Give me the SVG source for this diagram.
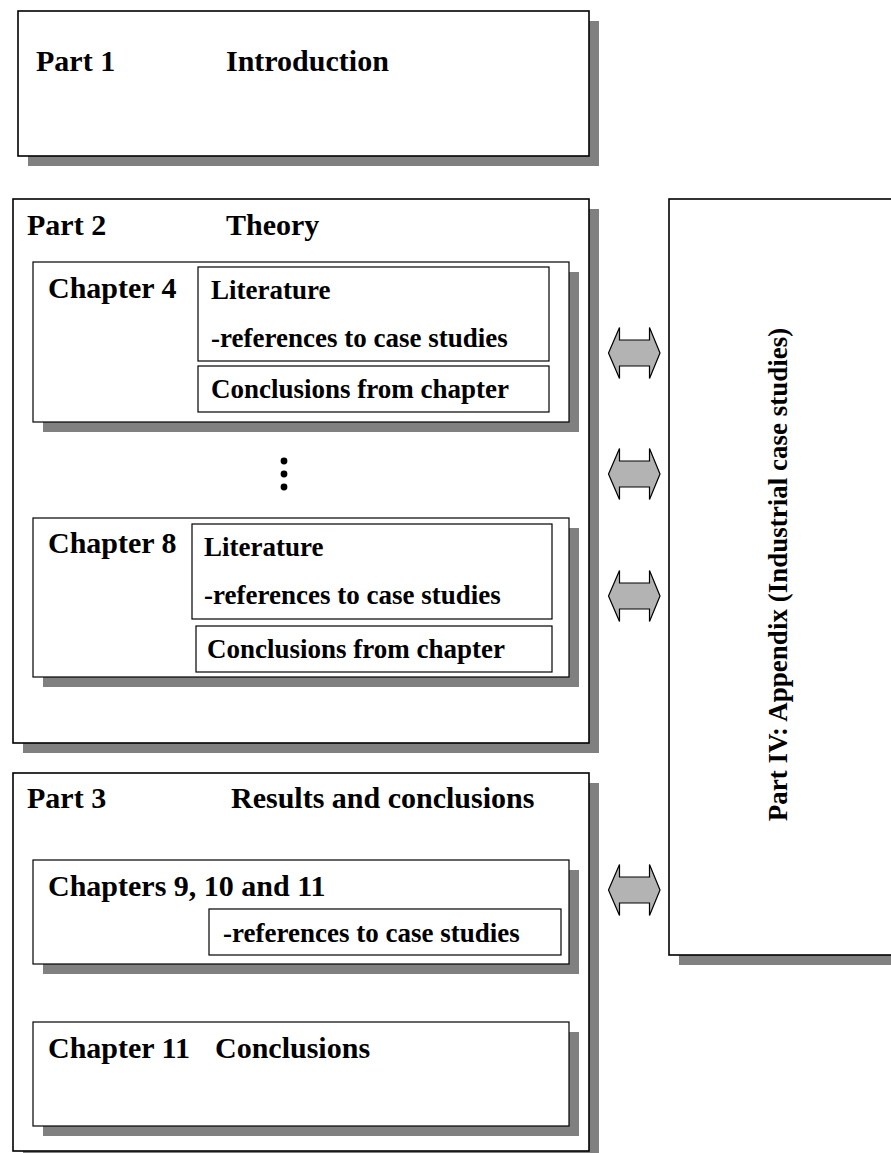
<svg xmlns="http://www.w3.org/2000/svg" width="891" height="1153" viewBox="0 0 891 1153">
  <style>
    .shadow { fill: #808080; }
    .box { fill: #ffffff; stroke: #000000; stroke-width: 1.6; }
    .inner { fill: #ffffff; stroke: #000000; stroke-width: 1.2; }
    .t { font-family: "Liberation Serif", "Times New Roman", serif; font-weight: bold; fill: #000000; }
    .title { font-size: 30px; }
    .sub { font-size: 27px; }
    .link { fill: #b3b3b3; stroke: #000000; stroke-width: 1.2; stroke-linejoin: miter; }
  </style>
  <defs>
    <!-- double-headed block arrow, centred on its own origin -->
    <polygon id="dbl-arrow" points="-26,0 -15,-25.5 -15,-13 15,-13 15,-25.5 25.5,0 15,25.5 15,13 -15,13 -15,25.5"/>
  </defs>
  <rect width="891" height="1153" fill="#ffffff"/>

  <!-- Part 1 -->
  <g id="part1">
    <rect class="shadow" x="28" y="21" width="571" height="145"/>
    <rect class="box" x="18" y="11" width="571" height="145"/>
    <text class="t title" x="36" y="71">Part 1</text>
    <text class="t title" x="226" y="71">Introduction</text>
  </g>

  <!-- Part 2 -->
  <g id="part2">
    <rect class="shadow" x="23" y="209" width="576" height="544"/>
    <rect class="box" x="13" y="199" width="576" height="544"/>
    <text class="t title" x="27" y="235">Part 2</text>
    <text class="t title" x="226" y="235">Theory</text>
  </g>

  <g id="chapter4">
    <rect class="shadow" x="43" y="272" width="536" height="160"/>
    <rect class="inner" x="33" y="262" width="536" height="160"/>
    <text class="t title" x="48" y="298">Chapter 4</text>
    <rect class="inner" x="198" y="267" width="351" height="94"/>
    <text class="t sub" x="211" y="299">Literature</text>
    <text class="t sub" x="211" y="347">-references to case studies</text>
    <rect class="inner" x="198" y="366" width="351" height="46"/>
    <text class="t sub" x="211" y="398">Conclusions from chapter</text>
  </g>

  <g id="ellipsis">
    <circle cx="284" cy="461" r="3.4" fill="#000000"/>
    <circle cx="284" cy="474" r="3.4" fill="#000000"/>
    <circle cx="284" cy="487" r="3.4" fill="#000000"/>
  </g>

  <g id="chapter8">
    <rect class="shadow" x="43" y="528" width="536" height="159"/>
    <rect class="inner" x="33" y="518" width="536" height="159"/>
    <text class="t title" x="48" y="553">Chapter 8</text>
    <rect class="inner" x="192" y="524" width="360" height="95"/>
    <text class="t sub" x="204" y="556">Literature</text>
    <text class="t sub" x="204" y="604">-references to case studies</text>
    <rect class="inner" x="196" y="626" width="356" height="46"/>
    <text class="t sub" x="207" y="658">Conclusions from chapter</text>
  </g>

  <!-- Part 3 -->
  <g id="part3">
    <rect class="shadow" x="23" y="783" width="576" height="378"/>
    <rect class="box" x="13" y="773" width="576" height="378"/>
    <text class="t title" x="27" y="808">Part 3</text>
    <text class="t title" x="231" y="808">Results and conclusions</text>
  </g>

  <g id="chapters9-11">
    <rect class="shadow" x="43" y="870" width="536" height="104"/>
    <rect class="inner" x="33" y="860" width="536" height="104"/>
    <text class="t title" x="48" y="896">Chapters 9, 10 and 11</text>
    <rect class="inner" x="209" y="909" width="352" height="46"/>
    <text class="t sub" x="223" y="942">-references to case studies</text>
  </g>

  <g id="chapter11">
    <rect class="shadow" x="43" y="1032" width="536" height="104"/>
    <rect class="inner" x="33" y="1022" width="536" height="104"/>
    <text class="t title" x="48" y="1058">Chapter 11</text>
    <text class="t title" x="215" y="1058">Conclusions</text>
  </g>

  <!-- Part IV (appendix), runs past the right edge -->
  <g id="part4">
    <rect class="shadow" x="679" y="209" width="240" height="756"/>
    <rect class="box" x="669" y="199" width="240" height="756"/>
    <text class="t sub" transform="translate(787,574.5) rotate(-90)" text-anchor="middle">Part IV: Appendix (Industrial case studies)</text>
  </g>

  <!-- links between the theory/results chapters and the appendix -->
  <g id="connectors">
    <use href="#dbl-arrow" class="link" x="634.5" y="353"/>
    <use href="#dbl-arrow" class="link" x="634.5" y="474"/>
    <use href="#dbl-arrow" class="link" x="634.5" y="596"/>
    <use href="#dbl-arrow" class="link" x="634.5" y="890"/>
  </g>
</svg>
